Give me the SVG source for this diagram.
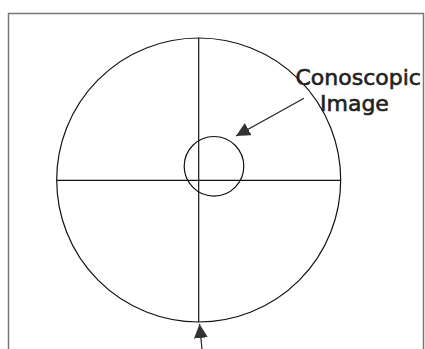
<svg xmlns="http://www.w3.org/2000/svg" width="425" height="349" viewBox="0 0 425 349">
<style>
.ln{fill:none;stroke:#111;stroke-width:1.2}
.lbl{font-family:"DejaVu Sans",sans-serif;font-size:22px;fill:#222;stroke:#222;stroke-width:0.6}
</style>
<defs>
<marker id="ah" viewBox="0 0 10 10" refX="10" refY="5" markerWidth="14" markerHeight="14" markerUnits="userSpaceOnUse" orient="auto">
<path d="M0,0 L10,5 L0,10 z" fill="#333"/>
</marker>
</defs>
<rect x="0" y="0" width="425" height="349" fill="#fff"/>
<rect id="frame" x="8.5" y="13.5" width="415" height="345" fill="none" stroke="#777" stroke-width="1.5"/>
<g id="field">
<circle class="ln" cx="198.7" cy="180" r="142"/>
<line class="ln" x1="198.7" y1="38" x2="198.7" y2="322"/>
<line class="ln" x1="56.7" y1="180.3" x2="340.7" y2="180.3"/>
</g>
<g id="conoscopic">
<circle class="ln" cx="214" cy="166.3" r="29.8"/>
</g>
<g id="labels">
<text class="lbl" x="295.5" y="84.5">Conoscopic</text>
<text class="lbl" x="320" y="111">Image</text>
</g>
<g id="connectors">
<line x1="304" y1="98.3" x2="236" y2="136" stroke="#222" stroke-width="1.2" marker-end="url(#ah)"/>
<line x1="202.3" y1="352" x2="199.5" y2="324" stroke="#222" stroke-width="1.2" marker-end="url(#ah)"/>
</g>
</svg>
